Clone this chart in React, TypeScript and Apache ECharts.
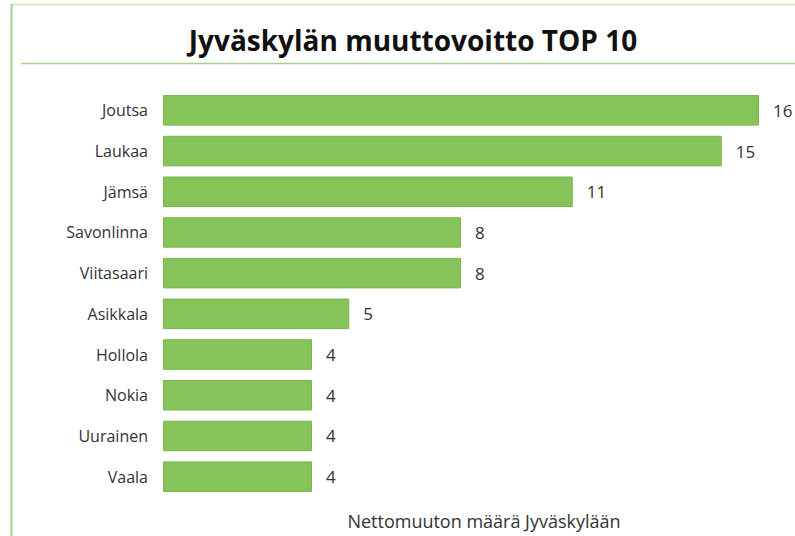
import React, { useEffect, useRef } from "react";
import * as echarts from "echarts";

const categories = ["Joutsa", "Laukaa", "Jämsä", "Savonlinna", "Viitasaari", "Asikkala", "Hollola", "Nokia", "Uurainen", "Vaala"];
const values = [16, 15, 11, 8, 8, 5, 4, 4, 4, 4];
const titleText = "Jyväskylän muuttovoitto TOP 10";
const axisTitle = "Nettomuuton määrä Jyväskylään";

export default function App() {
  const ref = useRef<HTMLDivElement>(null);
  useEffect(() => {
    if (!ref.current) return;
    const chart = echarts.init(ref.current, null, { renderer: "svg" });
    const font = "'Open Sans', 'Noto Sans', sans-serif";
    chart.setOption({
      animation: false,
      backgroundColor: "#ffffff",
      graphic: [
        { type: "line", shape: { x1: 11.5, y1: 4.5, x2: 795, y2: 4.5 }, style: { stroke: "#d6e9c6", lineWidth: 2 } },
        { type: "line", shape: { x1: 11.5, y1: 4, x2: 11.5, y2: 536 }, style: { stroke: "#a9d18e", lineWidth: 2 } },
        { type: "line", shape: { x1: 21, y1: 63.5, x2: 795, y2: 63.5 }, style: { stroke: "#a9d18e", lineWidth: 1.5 } },
        {
          type: "text", x: 413, y: 40,
          style: { text: titleText, font: `bold 28px ${font}`, fill: "#111111", textAlign: "center", textVerticalAlign: "middle" },
        },
        {
          type: "text", x: 484, y: 521,
          style: { text: axisTitle, font: `18px ${font}`, fill: "#333333", textAlign: "center", textVerticalAlign: "middle" },
        },
      ],
      grid: { left: 163, right: 36, top: 90, bottom: 39, containLabel: false },
      xAxis: {
        type: "value", min: 0, max: 16, show: false,
      },
      yAxis: {
        type: "category", data: categories, inverse: true,
        axisLine: { show: false }, axisTick: { show: false }, splitLine: { show: false },
        axisLabel: { margin: 15, fontSize: 16, color: "#333333", fontFamily: font },
      },
      series: [{
        type: "bar", data: values, barCategoryGap: "25%",
        itemStyle: { color: "#86c45a", borderColor: "#78b54c", borderWidth: 1 },
        label: { show: true, position: "right", distance: 14, fontSize: 17, color: "#333333", fontFamily: font },
      }],
    });
    return () => chart.dispose();
  }, []);
  return <div ref={ref} style={{ position: "fixed", left: 0, top: 0, width: 795, height: 536 }} />;
}
